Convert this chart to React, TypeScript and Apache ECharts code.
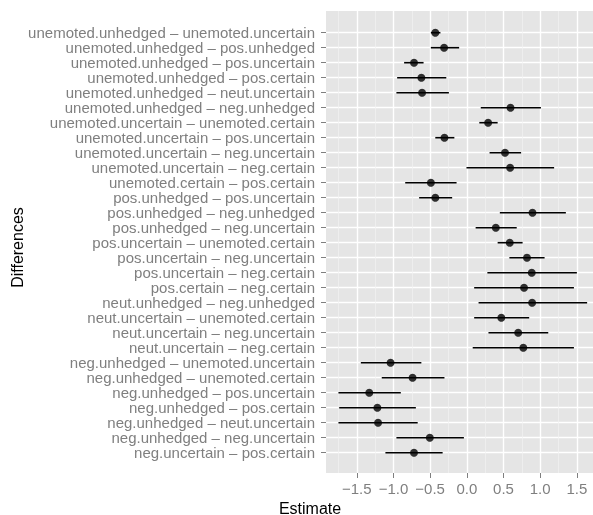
import React, { useEffect, useRef } from 'react';
import * as echarts from 'echarts';

const categories = [
  'unemoted.unhedged – unemoted.uncertain',
  'unemoted.unhedged – pos.unhedged',
  'unemoted.unhedged – pos.uncertain',
  'unemoted.unhedged – pos.certain',
  'unemoted.unhedged – neut.uncertain',
  'unemoted.unhedged – neg.unhedged',
  'unemoted.uncertain – unemoted.certain',
  'unemoted.uncertain – pos.uncertain',
  'unemoted.uncertain – neg.uncertain',
  'unemoted.uncertain – neg.certain',
  'unemoted.certain – pos.certain',
  'pos.unhedged – pos.uncertain',
  'pos.unhedged – neg.unhedged',
  'pos.unhedged – neg.uncertain',
  'pos.uncertain – unemoted.certain',
  'pos.uncertain – neg.uncertain',
  'pos.uncertain – neg.certain',
  'pos.certain – neg.certain',
  'neut.unhedged – neg.unhedged',
  'neut.uncertain – unemoted.certain',
  'neut.uncertain – neg.uncertain',
  'neut.uncertain – neg.certain',
  'neg.unhedged – unemoted.uncertain',
  'neg.unhedged – unemoted.certain',
  'neg.unhedged – pos.uncertain',
  'neg.unhedged – pos.certain',
  'neg.unhedged – neut.uncertain',
  'neg.unhedged – neg.uncertain',
  'neg.uncertain – pos.certain',
];

const estimate = [
  -0.43, -0.31, -0.72, -0.62, -0.61, 0.595, 0.29, -0.305, 0.52, 0.59,
  -0.49, -0.43, 0.895, 0.395, 0.585, 0.82, 0.885, 0.78, 0.89, 0.47,
  0.70, 0.77, -1.04, -0.74, -1.33, -1.22, -1.21, -0.505, -0.72,
];
const lower = [
  -0.49, -0.49, -0.855, -0.95, -0.96, 0.19, 0.17, -0.43, 0.31, -0.005,
  -0.84, -0.65, 0.45, 0.12, 0.42, 0.58, 0.28, 0.10, 0.16, 0.10,
  0.295, 0.08, -1.445, -1.16, -1.75, -1.74, -1.75, -0.96, -1.11,
];
const upper = [
  -0.36, -0.105, -0.59, -0.28, -0.245, 1.01, 0.42, -0.17, 0.74, 1.19,
  -0.14, -0.2, 1.35, 0.68, 0.76, 1.06, 1.5, 1.46, 1.64, 0.85,
  1.11, 1.46, -0.62, -0.305, -0.9, -0.695, -0.67, -0.04, -0.33,
];

const xMajorTicks = [-1.5, -1.0, -0.5, 0.0, 0.5, 1.0, 1.5];
const xMinorTicks = [-1.75, -1.25, -0.75, -0.25, 0.25, 0.75, 1.25];
const xMin = -1.92;
const xMax = 1.72;

const FONT = '"Liberation Sans", Arial, Helvetica, sans-serif';

function fmt(v: number) {
  const s = Math.abs(v).toFixed(1);
  return v < 0 ? '\u2212' + s : s;
}

export default function App() {
  const ref = useRef<HTMLDivElement>(null);
  useEffect(() => {
    if (!ref.current) return;
    const chart = echarts.init(ref.current, undefined, { renderer: 'svg' });
    const option: any = {
      animation: false,
      textStyle: { fontFamily: FONT },
      grid: [
        { left: 326, right: 0, top: 11, bottom: 42, show: true, backgroundColor: '#E5E5E5', borderWidth: 0 },
        { left: 326, right: 0, top: 32.7, bottom: 62.3 },
      ],
      xAxis: [
        {
          gridIndex: 0,
          type: 'value',
          min: xMin,
          max: xMax,
          axisLine: { show: false, onZero: false },
          axisTick: { show: true, length: 5, customValues: xMajorTicks, lineStyle: { color: '#7F7F7F', width: 1 } },
          axisLabel: {
            show: true,
            customValues: xMajorTicks,
            margin: 8,
            fontSize: 15,
            color: '#7F7F7F',
            fontFamily: FONT,
            formatter: (v: number) => fmt(v),
          },
          splitLine: { show: false },
        },
        { gridIndex: 1, type: 'value', min: xMin, max: xMax, show: false },
      ],
      yAxis: [
        { gridIndex: 0, type: 'value', min: 0, max: 1, show: false },
        {
          gridIndex: 1,
          type: 'category',
          data: categories,
          inverse: true,
          boundaryGap: false,
          z: 3,
          axisLine: { show: false, onZero: false },
          axisTick: { show: true, length: 5, lineStyle: { color: '#7F7F7F', width: 1 } },
          axisLabel: { margin: 11, fontSize: 15, lineHeight: 14, color: '#7F7F7F', fontFamily: FONT, interval: 0 },
          splitLine: { show: true, lineStyle: { color: '#FFFFFF', width: 1.4 } },
        },
      ],
      series: [
        {
          type: 'line',
          xAxisIndex: 0,
          yAxisIndex: 0,
          data: [],
          z: 1,
          silent: true,
          markLine: {
            silent: true,
            symbol: 'none',
            label: { show: false },
            data: [
              ...xMinorTicks.map((v) => ({ xAxis: v, lineStyle: { color: '#F2F2F2', width: 0.7, type: 'solid' } })),
              ...xMajorTicks.map((v) => ({ xAxis: v, lineStyle: { color: '#FFFFFF', width: 1.4, type: 'solid' } })),
            ],
          },
        },
        {
          type: 'custom',
          xAxisIndex: 1,
          yAxisIndex: 1,
          z: 5,
          encode: { x: [1, 2], y: 0 },
          data: categories.map((_, i) => [i, lower[i], upper[i]]),
          renderItem: (params: any, api: any) => {
            const c = api.value(0);
            const a = api.coord([api.value(1), c]);
            const b = api.coord([api.value(2), c]);
            return {
              type: 'line',
              shape: { x1: a[0], y1: a[1], x2: b[0], y2: b[1] },
              style: { stroke: '#000000', lineWidth: 1.6 },
            };
          },
        },
        {
          type: 'scatter',
          xAxisIndex: 1,
          yAxisIndex: 1,
          z: 6,
          symbol: 'circle',
          symbolSize: 8,
          itemStyle: { color: '#000000' },
          data: estimate.map((v, i) => [v, i]),
        },
      ],
      graphic: [
        {
          type: 'text',
          x: 310,
          y: 508,
          style: { text: 'Estimate', fontSize: 16, fill: '#000000', textAlign: 'center', textVerticalAlign: 'middle', fontFamily: FONT },
        },
        {
          type: 'text',
          x: 17.5,
          y: 247.5,
          rotation: Math.PI / 2,
          style: { text: 'Differences', fontSize: 16, fill: '#000000', textAlign: 'center', textVerticalAlign: 'middle', fontFamily: FONT },
        },
      ],
    };
    chart.setOption(option);
    return () => chart.dispose();
  }, []);
  return <div ref={ref} style={{ position: 'fixed', left: 0, top: 0, width: 593, height: 515 }} />;
}
